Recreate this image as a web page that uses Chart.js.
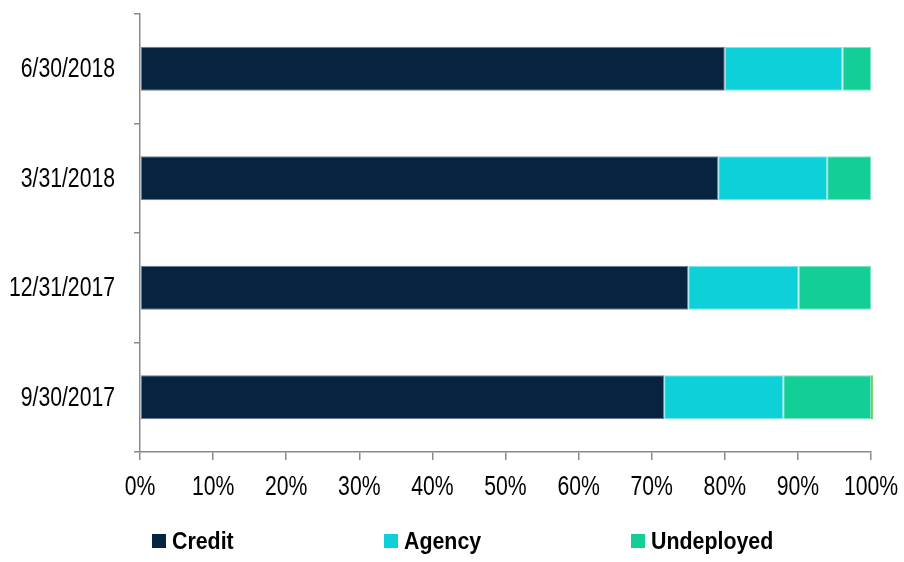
<!DOCTYPE html>
<html>
<head>
<meta charset="utf-8">
<script src="https://cdn.jsdelivr.net/npm/chart.js@4"></script>
<style>
  body { margin: 0; background: #fff; }
  #wrap { position: relative; width: 904px; height: 562px; }
  #legend { position: absolute; left: 0; top: 526px; width: 904px; height: 30px;
    font-family: "Liberation Sans", Arial, sans-serif;
    font-weight: bold; font-size: 24px; color: #000; }
  #legend .item { position: absolute; top: 0; line-height: 30px; white-space: nowrap; }
  #legend .box { position: absolute; left: 0; top: 8px; width: 14px; height: 14px; }
  #legend .txt { position: absolute; left: 20px; top: 0; display: inline-block;
    transform: scaleX(0.89); transform-origin: 0 50%; }
</style>
</head>
<body>
<div id="wrap">
  <canvas id="chart" width="904" height="562"></canvas>
  <div id="legend"></div>
</div>
<script>
const FONT = '"Liberation Sans", Arial, sans-serif';

// categories, top to bottom
const quarters = ['6/30/2018', '3/31/2018', '12/31/2017', '9/30/2017'];

// share of portfolio, %
const credit = [80.0, 79.1, 75.0, 71.7];
const agency = [16.1, 14.9, 15.1, 16.3];
const undeployed = [3.9, 6.0, 9.9, 12.0];
const other = [0, 0, 0, 0.3]; // tiny sliver past 100% on 9/30/2017, not in legend

const xTicks = [0, 10, 20, 30, 40, 50, 60, 70, 80, 90, 100];

const axisGray = '#8a8a8a';

const datasets = [
  { label: 'Credit', data: credit, backgroundColor: '#06233f', borderColor: '#6f7e90' },
  { label: 'Agency', data: agency, backgroundColor: '#0dd0d8', borderColor: '#86e6ea' },
  { label: 'Undeployed', data: undeployed, backgroundColor: '#13cf97', borderColor: '#80e4c6' },
  { label: 'Other', data: other, backgroundColor: '#6ecc5a', borderColor: '#6ecc5a', hideInLegend: true }
].map(d => Object.assign({
  borderWidth: 1,
  borderSkipped: false,
  barPercentage: 0.4,
  categoryPercentage: 1,
  clip: false
}, d));

// the original uses a narrow face; draw tick labels condensed
const narrowLabels = {
  id: 'narrowLabels',
  afterDraw(chart) {
    const ctx = chart.ctx;
    const sx = 0.785;
    ctx.save();
    ctx.fillStyle = '#000';
    ctx.font = '27px ' + FONT;

    const y = chart.scales.y;
    ctx.textAlign = 'right';
    ctx.textBaseline = 'middle';
    y.ticks.forEach((t, i) => {
      ctx.save();
      ctx.translate(y.right - 25, y.getPixelForTick(i) + 1);
      ctx.scale(sx, 1);
      ctx.fillText(y.getLabelForValue(t.value), 0, 0);
      ctx.restore();
    });

    const x = chart.scales.x;
    ctx.textAlign = 'center';
    ctx.textBaseline = 'alphabetic';
    x.ticks.forEach((t, i) => {
      ctx.save();
      ctx.translate(x.getPixelForTick(i), x.top + 43);
      ctx.scale(sx, 1);
      ctx.fillText(t.value + '%', 0, 0);
      ctx.restore();
    });
    ctx.restore();
  }
};

const chart = new Chart(document.getElementById('chart'), {
  type: 'bar',
  data: { labels: quarters, datasets },
  plugins: [narrowLabels],
  options: {
    indexAxis: 'y',
    responsive: false,
    animation: false,
    layout: { padding: { top: 14, right: 33, bottom: 50, left: 0 } },
    plugins: {
      legend: { display: false },
      tooltip: { enabled: false }
    },
    scales: {
      x: {
        stacked: true,
        min: 0,
        max: 100,
        afterBuildTicks: (scale) => { scale.ticks = xTicks.map(v => ({ value: v })); },
        afterFit: (scale) => {
          scale.height = 60;
          scale.paddingLeft = 0;
          scale.paddingRight = 0;
        },
        ticks: { display: false },
        grid: { drawOnChartArea: false, tickLength: 8, color: axisGray, lineWidth: 1.5 },
        border: { color: axisGray, width: 1.5 }
      },
      y: {
        stacked: true,
        afterFit: (scale) => {
          scale.width = 140;
          scale.paddingTop = 0;
          scale.paddingBottom = 0;
        },
        ticks: { display: false },
        grid: { drawOnChartArea: false, offset: true, tickLength: 6, color: axisGray, lineWidth: 1.5 },
        border: { color: axisGray, width: 1.5 }
      }
    }
  }
});

// html legend, spread like the original
const legendX = [152, 384, 631];
const legend = document.getElementById('legend');
datasets.filter(d => !d.hideInLegend).forEach((d, i) => {
  const item = document.createElement('div');
  item.className = 'item';
  item.style.left = legendX[i] + 'px';
  item.innerHTML = '<span class="box" style="background:' + d.backgroundColor + '"></span>' +
    '<span class="txt">' + d.label + '</span>';
  legend.appendChild(item);
});
</script>
</body>
</html>
